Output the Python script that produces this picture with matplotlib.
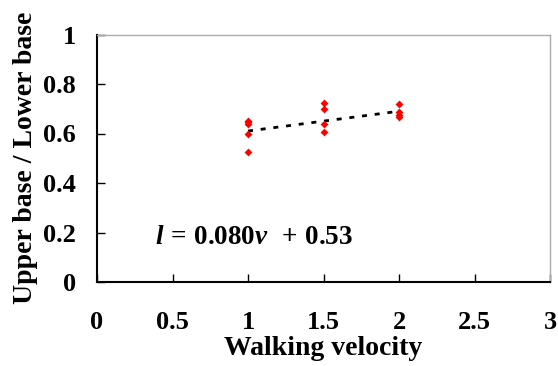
import numpy as np
import matplotlib.pyplot as plt

# -----------------------------
# DATA
# -----------------------------
velocity = [1, 1, 1, 1, 1,
            1.5, 1.5, 1.5, 1.5,
            2, 2, 2, 2]
ratio = [0.65, 0.645, 0.64, 0.60, 0.525,
         0.722, 0.699, 0.637, 0.606,
         0.719, 0.686, 0.675, 0.668]
slope, intercept = 0.080, 0.53
fit_x = [1, 2]

x_ticks = [0, 0.5, 1, 1.5, 2, 2.5, 3]
x_labels = ["0", "0.5", "1", "1.5", "2", "2.5", "3"]
y_ticks = [0, 0.2, 0.4, 0.6, 0.8, 1]
y_labels = ["0", "0.2", "0.4", "0.6", "0.8", "1"]

# -----------------------------
# STYLE
# -----------------------------
plt.rcParams["font.family"] = "Liberation Serif"
plt.rcParams["font.weight"] = "bold"
plt.rcParams["mathtext.fontset"] = "custom"
plt.rcParams["mathtext.rm"] = "Liberation Serif:bold"
plt.rcParams["mathtext.it"] = "Liberation Serif:italic:bold"

fig = plt.figure(figsize=(5.58, 3.66), dpi=100)
ax = fig.add_axes([97 / 558, 1 - 282 / 366, 453 / 558, 247.5 / 366])

ax.scatter(velocity, ratio, marker="D", s=16, color="red", zorder=3, linewidths=0)
fx = np.array(fit_x)
ax.plot(fx, slope * fx + intercept, color="black", linestyle=(0, (1.8, 2.8)), lw=2, zorder=2)

ax.set_xlim(0, 3)
ax.set_ylim(0, 1)
ax.set_xticks(x_ticks)
ax.set_xticklabels(x_labels)
ax.set_yticks(y_ticks)
ax.set_yticklabels(y_labels)
ax.tick_params(direction="in", length=6, width=1, labelsize=19)
ax.tick_params(axis="x", pad=21)
ax.tick_params(axis="y", pad=15)

for side in ["left", "bottom"]:
    ax.spines[side].set_linewidth(1.5)
for side in ["top", "right"]:
    ax.spines[side].set_color("#aaaaaa")
    ax.spines[side].set_linewidth(1)

ax.set_xlabel("Walking velocity", fontsize=20, fontweight="bold", labelpad=1)
ax.set_ylabel("Upper base / Lower base", fontsize=20, fontweight="bold", labelpad=4)

# equation label
ax.text(0.384, 0.18, r"$l\,=\,0.080v\ \,+\,0.53$", fontsize=19.5, va="center")

fig.savefig("out.png", dpi=100)
